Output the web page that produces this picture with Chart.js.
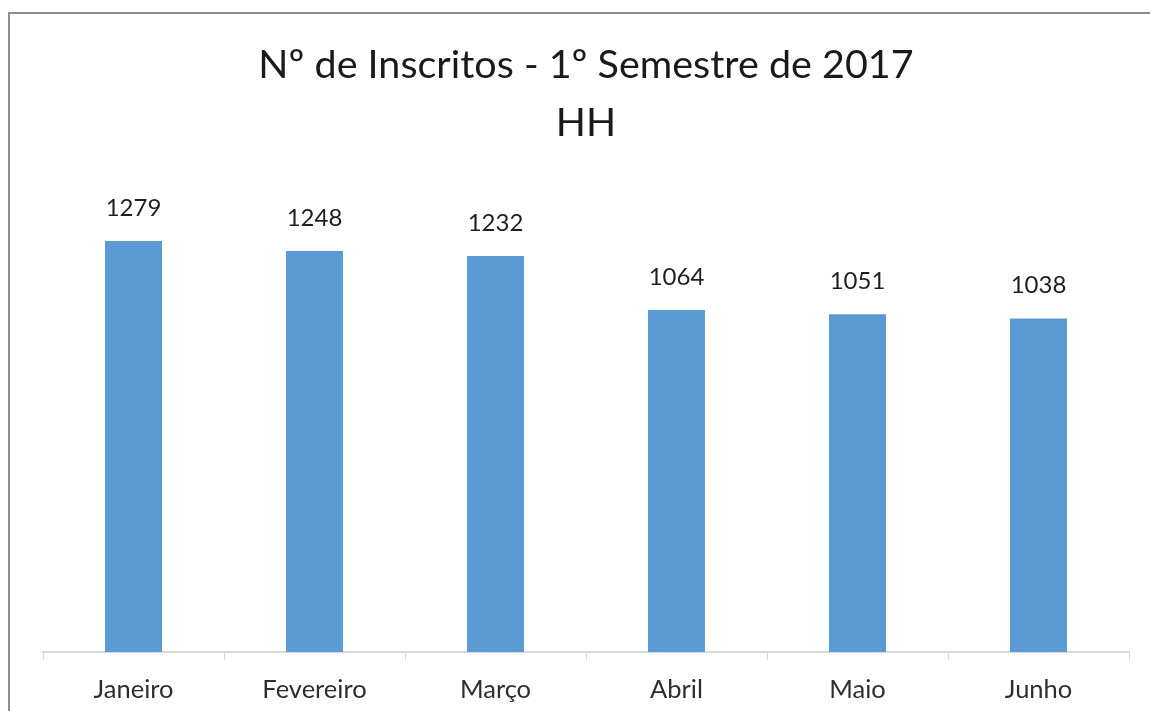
<!DOCTYPE html>
<html>
<head>
<meta charset="utf-8">
<script src="https://cdn.jsdelivr.net/npm/chart.js@4/dist/chart.umd.min.js"></script>
<style>
html,body{margin:0;padding:0;background:#fff;}
#wrap{position:relative;width:1150px;height:711px;}
</style>
</head>
<body>
<div id="wrap"><canvas id="c" width="1150" height="711"></canvas></div>
<script>
const categories = ['Janeiro', 'Fevereiro', 'Março', 'Abril', 'Maio', 'Junho'];
const inscritos = [1279, 1248, 1232, 1064, 1051, 1038];
const titleLines = ['Nº de Inscritos - 1º Semestre de 2017', 'HH'];
const yMin = 0;
const yMax = 1400;

const FONT = 'Lato, "Noto Sans", sans-serif';

const frame = {
  id: 'frame',
  beforeDraw(chart) {
    const ctx = chart.ctx;
    ctx.save();
    ctx.fillStyle = '#ffffff';
    ctx.fillRect(0, 0, chart.width, chart.height);
    ctx.strokeStyle = '#8c8c8c';
    ctx.lineWidth = 2;
    ctx.beginPath();
    ctx.moveTo(9, chart.height);
    ctx.lineTo(9, 13);
    ctx.lineTo(chart.width, 13);
    ctx.stroke();
    ctx.restore();
  }
};

const valueLabels = {
  id: 'valueLabels',
  afterDatasetsDraw(chart) {
    const ctx = chart.ctx;
    const meta = chart.getDatasetMeta(0);
    ctx.save();
    ctx.font = '24px ' + FONT;
    ctx.fillStyle = '#1e1e1e';
    ctx.textAlign = 'center';
    ctx.textBaseline = 'alphabetic';
    meta.data.forEach((bar, i) => {
      ctx.fillText(String(chart.data.datasets[0].data[i]), bar.x, bar.y - 25);
    });
    ctx.restore();
  }
};

new Chart(document.getElementById('c'), {
  type: 'bar',
  data: {
    labels: categories,
    datasets: [{
      data: inscritos,
      backgroundColor: '#5b9bd5',
      borderWidth: 0,
      categoryPercentage: 1,
      barPercentage: 0.315
    }]
  },
  options: {
    responsive: false,
    animation: false,
    layout: { padding: { left: 43, right: 21, top: 36, bottom: 0 } },
    plugins: {
      legend: { display: false },
      tooltip: { enabled: false },
      title: {
        display: true,
        text: titleLines,
        color: '#1a1a1a',
        font: { family: FONT, size: 39.5, weight: 'normal', lineHeight: 1.47 },
        padding: { top: 0, bottom: 50 }
      }
    },
    scales: {
      x: {
        afterFit(scale) { scale.height = 59; },
        grid: {
          display: true,
          drawOnChartArea: false,
          drawTicks: true,
          tickLength: 8,
          tickColor: '#d9d9d9',
          color: '#d9d9d9',
          offset: true
        },
        border: { display: true, color: '#d9d9d9', width: 2 },
        ticks: {
          color: '#2e2e2e',
          padding: 24,
          font: { family: FONT, size: 25.5, lineHeight: 0.48 }
        }
      },
      y: {
        display: false,
        min: yMin,
        max: yMax
      }
    }
  },
  plugins: [frame, valueLabels]
});
</script>
</body>
</html>
